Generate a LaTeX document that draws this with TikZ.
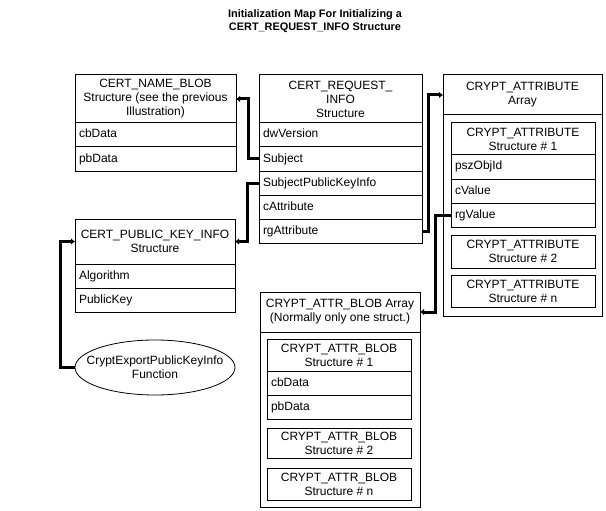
\documentclass[tikz,border=0pt]{standalone}
\usepackage{fontspec}
\setmainfont{Liberation Sans}
\usepackage{tikz}
\usetikzlibrary{arrows.meta}
\usetikzlibrary{shapes.geometric}
\tikzset{every node/.style={font=\fontsize{12}{14}\selectfont}}
\tikzset{titletext/.style={font=\bfseries\fontsize{10.9}{13.3}\selectfont,align=center}}
\tikzset{hdrbox/.style={draw,line width=1pt,anchor=north west,align=center,inner sep=0pt,outer sep=0pt}}
\tikzset{rowbox/.style={draw,line width=1pt,anchor=north west,align=left,inner xsep=4pt,inner ysep=0pt,outer sep=0pt,minimum height=24pt,text height=8.5pt,text depth=2.5pt,text width=#1}}
\tikzset{fnshape/.style={draw,ellipse,line width=0.8pt,minimum width=160pt,minimum height=55pt,inner sep=0pt,outer sep=0pt}}
\tikzset{conn/.style={line width=3pt,-{Latex[length=4pt,width=6.5pt]}}}

\begin{document}
\begin{tikzpicture}[x=1pt,y=-1pt]
            \useasboundingbox (0,0) rectangle (606,511);
            \node[titletext] (ttl) at (315,21) {Initialization Map For Initializing a\\CERT\_REQUEST\_INFO Structure};
            \node[hdrbox,minimum width=161pt,minimum height=48pt] (nbh) at (75,75) {CERT\_NAME\_BLOB\\Structure (see the previous\\Illustration)};
            \node[rowbox=153pt] (nb1) at (75,123) {cbData};
            \node[rowbox=153pt] (nb2) at (75,147) {pbData};
            \node[hdrbox,minimum width=163pt,minimum height=48pt] (rih) at (259,75) {CERT\_REQUEST\_\\INFO\\Structure};
            \node[rowbox=155pt] (ri1) at (259,123) {dwVersion};
            \node[rowbox=155pt] (ri2) at (259,147) {Subject};
            \node[rowbox=155pt] (ri3) at (259,171) {SubjectPublicKeyInfo};
            \node[rowbox=155pt] (ri4) at (259,195) {cAttribute};
            \node[rowbox=155pt] (ri5) at (259,219) {rgAttribute};
            \node[hdrbox,minimum width=160pt,minimum height=45pt] (pkh) at (75,219) {CERT\_PUBLIC\_KEY\_INFO\\Structure};
            \node[rowbox=152pt] (pk1) at (75,264) {Algorithm};
            \node[rowbox=152pt] (pk2) at (75,288) {PublicKey};
            \node[fnshape] (fn) at (155,367.5) {};
            \node[align=center] (fntxt) at (fn.center) {CryptExportPublicKeyInfo\\Function};
            \node[hdrbox,minimum width=159pt,minimum height=241pt] (ca) at (443,75) {};
            \node[hdrbox,minimum width=159pt,minimum height=40pt] (cah) at (443,75) {CRYPT\_ATTRIBUTE\\Array};
            \node[hdrbox,minimum width=144pt,minimum height=32pt] (cas1) at (451,123) {CRYPT\_ATTRIBUTE\\Structure \# 1};
            \node[rowbox=136pt] (cas1a) at (451,155) {pszObjId};
            \node[rowbox=136pt] (cas1b) at (451,179) {cValue};
            \node[rowbox=136pt] (cas1c) at (451,203) {rgValue};
            \node[hdrbox,minimum width=144pt,minimum height=33pt] (cas2) at (451,235) {CRYPT\_ATTRIBUTE\\Structure \# 2};
            \node[hdrbox,minimum width=144pt,minimum height=32pt] (casn) at (451,275) {CRYPT\_ATTRIBUTE\\Structure \# n};
            \node[hdrbox,minimum width=160pt,minimum height=215pt] (ab) at (260,292) {};
            \node[hdrbox,minimum width=160pt,minimum height=40pt] (abh) at (260,292) {CRYPT\_ATTR\_BLOB Array\\(Normally only one struct.)};
            \node[hdrbox,minimum width=144pt,minimum height=32pt] (ab1) at (267,339) {CRYPT\_ATTR\_BLOB\\Structure \# 1};
            \node[rowbox=136pt] (ab1a) at (267,371) {cbData};
            \node[rowbox=136pt] (ab1b) at (267,395) {pbData};
            \node[hdrbox,minimum width=144pt,minimum height=30pt] (ab2) at (267,428) {CRYPT\_ATTR\_BLOB\\Structure \# 2};
            \node[hdrbox,minimum width=144pt,minimum height=32pt] (abn) at (267,468) {CRYPT\_ATTR\_BLOB\\Structure \# n};
            \draw[conn] (ri2.west) -- ++(-11,0) |- (nbh.east);
            \draw[conn] (ri3.west) -- ++(-12,0) |- (pkh.east);
            \draw[conn] (ri5.east) -- ++(6,0) |- (cah.west);
            \draw[conn] (cas1c.west) -- ++(-16,0) |- (abh.east);
            \draw[conn] (fn.west) -- ++(-15,0) |- (pkh.west);
\end{tikzpicture}
\end{document}
